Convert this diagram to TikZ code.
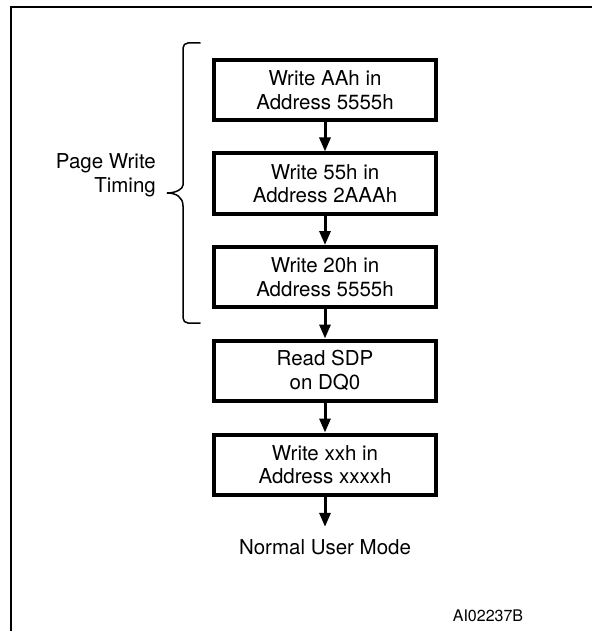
\documentclass[tikz,border=0pt]{standalone}
\usepackage{fontspec}
\setmainfont{TeX Gyre Heros}
\usetikzlibrary{arrows.meta}
\begin{document}
\begin{tikzpicture}[x=1pt,y=1pt,
  stepbox/.style={draw=black, line width=4pt, minimum width=222pt, minimum height=60pt,
    align=center, inner sep=0pt, font=\fontsize{20.5}{23.5}\selectfont},
  flow/.style={line width=3pt, -{Triangle[length=14pt,width=11pt]}},
  bracepath/.style={line width=1.5pt, line cap=round},
  frameline/.style={line width=2pt},
  labeltext/.style={inner sep=0pt, font=\fontsize{20.5}{24}\selectfont}]
\useasboundingbox (0,0) rectangle (591,-631);
% frame
\draw[frameline] (10.5,-640) -- (10.5,-7) -- (600,-7);
% boxes
\node[stepbox] (b1) at (325,-90)    {Write AAh in\\Address 5555h};
\node[stepbox] (b2) at (325,-183.5) {Write 55h in\\Address 2AAAh};
\node[stepbox] (b3) at (325,-277)   {Write 20h in\\Address 5555h};
\node[stepbox] (b4) at (325,-370.5) {Read SDP\\on DQ0};
\node[stepbox] (b5) at (325,-464.5) {Write xxh in\\Address xxxxh};
\node[labeltext, inner ysep=12pt, anchor=base] (nu) at (325,-554) {Normal User Mode};
\node[inner sep=0pt, font=\fontsize{16}{19}\selectfont] (id) at (488,-616) {AI02237B};
% arrows
\draw[flow] (b1.south) -- (b2.north);
\draw[flow] (b2.south) -- (b3.north);
\draw[flow] (b3.south) -- (b4.north);
\draw[flow] (b4.south) -- (b5.north);
\draw[flow] (b5.south) -- (nu.north);
% brace and label
\draw[bracepath] [rounded corners=5pt] (200,-43) -- (183,-43) -- (183,-180)
  [sharp corners] .. controls (183,-189) and (176,-193) .. (167,-193)
  .. controls (176,-193) and (183,-197) .. (183,-206)
  [rounded corners=5pt] -- (183,-323) -- (200,-323);
\node[labeltext, align=right, anchor=east] (pw) at (156,-175) {Page Write\\Timing};
\end{tikzpicture}
\end{document}
